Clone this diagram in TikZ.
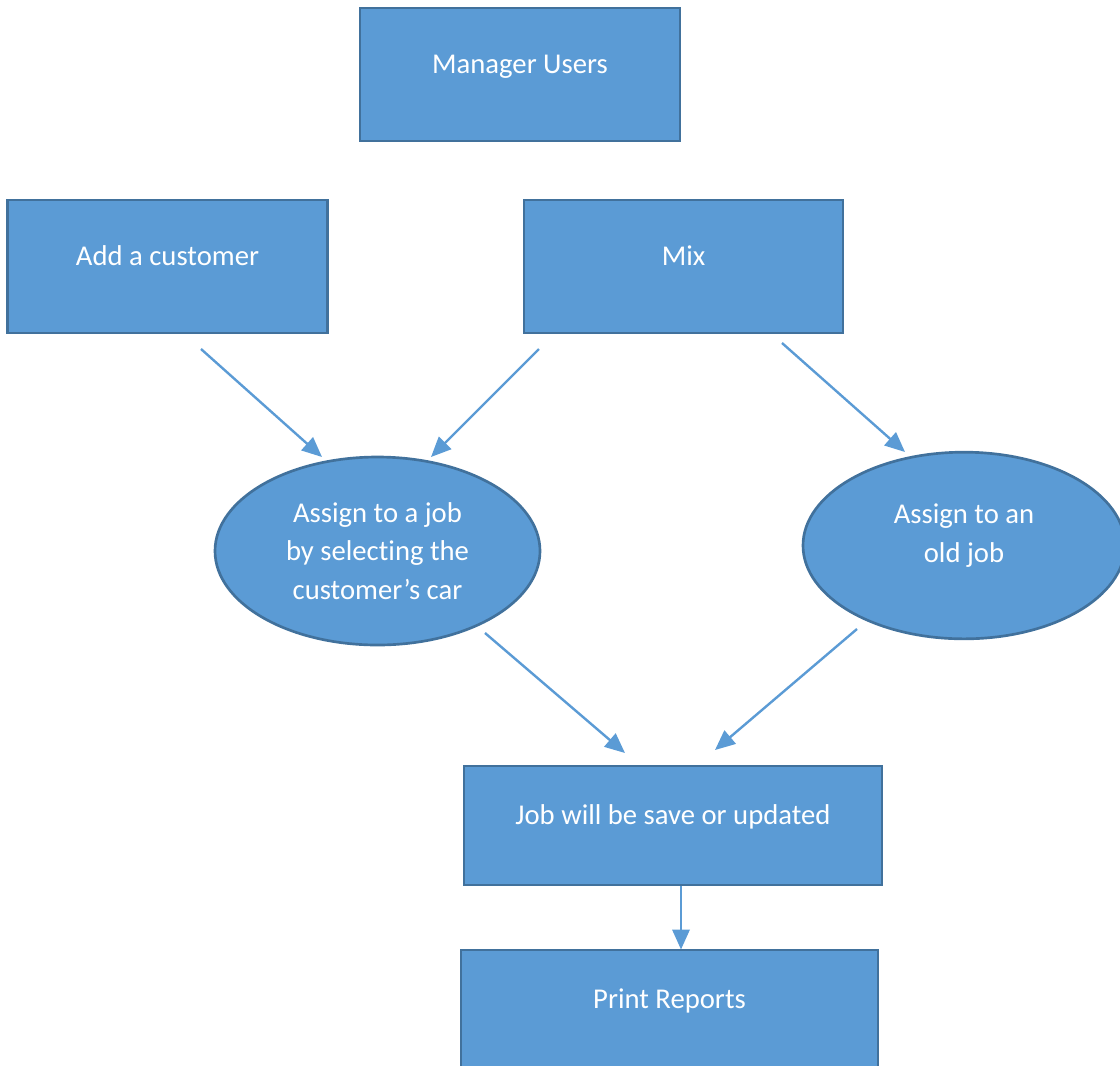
\documentclass[tikz,border=0pt]{standalone}
\usepackage{fontspec}
\setmainfont{Carlito}[Ligatures=NoCommon]
\usepackage{tikz}
\usetikzlibrary{calc}
\usetikzlibrary{positioning}
\usetikzlibrary{shapes.geometric}
\usetikzlibrary{arrows.meta}
\definecolor{boxFill}{HTML}{5B9BD5}
\definecolor{boxEdge}{HTML}{41719C}
\tikzstyle{stepbox} = [draw=boxEdge, fill=boxFill, line width=2pt, rectangle, text=white, font=\fontsize{21.5pt}{29pt}\selectfont, text height=16pt, text depth=18pt]
\tikzstyle{jobnode} = [draw=boxEdge, fill=boxFill, line width=2pt, ellipse, text=white, font=\fontsize{21.5pt}{29pt}\selectfont, align=center, inner sep=0pt, minimum width=243.75pt, minimum height=141pt]
\tikzstyle{flow} = [draw=boxFill, line width=1.8pt, -{Triangle[length=15pt,width=13pt]}]

\begin{document}
\begin{tikzpicture}[x=0.75pt,y=-0.75pt]
\clip (0,0) rectangle (1120,1065);
\node[stepbox, minimum width=240pt, minimum height=99.75pt] (mgr) at (520,74.5) {Manager Users};
\node[stepbox, minimum width=240pt, minimum height=99.75pt] (add) at ($(mgr)+(-352.5,192)$) {Add a customer};
\node[stepbox, minimum width=239.25pt, minimum height=99.75pt] (mix) at ($(mgr)+(163.5,192)$) {Mix};

\node[jobnode] (ell_car) at ($(add)+(210,284.5)$) {Assign to a job\\by selecting the\\customer’s car};
\node[jobnode, minimum width=241.5pt, minimum height=140pt] (ell_old) at ($(mix)+(280.5,279)$) {Assign to an\\old job\\[-10pt]\mbox{}};

\node[stepbox, minimum width=313.5pt, minimum height=89.25pt] (job) at ($(mgr)+(153,751)$) {Job will be save or updated};
\node[stepbox, minimum width=312.75pt, minimum height=89.25pt] (print) at ($(job)+(-3.5,184)$) {Print Reports};

% arrow ends
\coordinate (add_out) at ($(add)+(33.5,82.5)$);
\coordinate (mix_out1) at ($(mix)+(-144.5,82.5)$);
\coordinate (mix_out2) at ($(mix)+(98.5,76.5)$);
\coordinate (car_in1) at ($(ell_car)+(-55.5,-94)$);
\coordinate (car_in2) at ($(ell_car)+(53.5,-94)$);
\coordinate (old_in) at ($(ell_old)+(-59,-93.5)$);
\coordinate (car_out) at ($(ell_car)+(107.5,82)$);
\coordinate (old_out) at ($(ell_old)+(-107,83.5)$);
\coordinate (job_in1) at ($(job)+(-48,-72.5)$);
\coordinate (job_in2) at ($(job)+(42,-75.5)$);
\coordinate (job_out) at ($(job)+(8,60)$);
\coordinate (print_in) at ($(print)+(11.5,-60)$);

\draw[flow] (add_out) -- (car_in1);
\draw[flow] (mix_out1) -- (car_in2);
\draw[flow] (mix_out2) -- (old_in);
\draw[flow] (car_out) -- (job_in1);
\draw[flow] (old_out) -- (job_in2);
\draw[flow] (job_out) -- (print_in);
\end{tikzpicture}
\end{document}
